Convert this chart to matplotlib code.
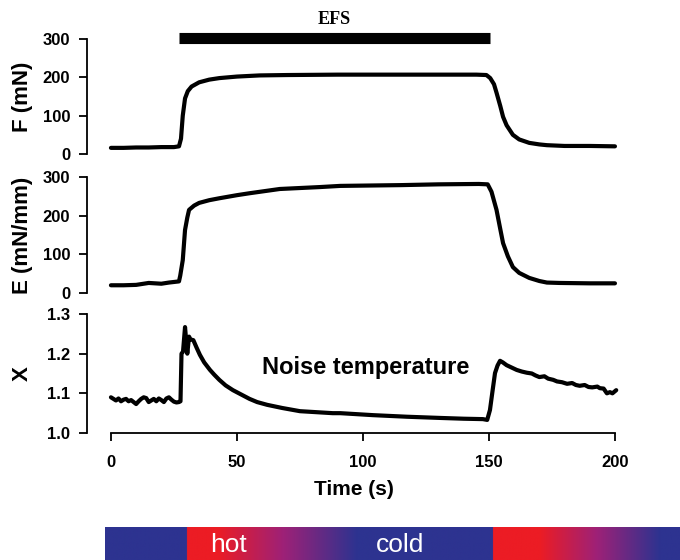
import numpy as np
import matplotlib
matplotlib.use("Agg")
import matplotlib.pyplot as plt
from matplotlib.colors import LinearSegmentedColormap

# ---------------- data ----------------
t_F = [0, 5, 10, 15, 20, 25, 27, 27.8, 28.5, 29.4, 30.5, 32, 35, 39, 43, 50, 59, 70, 90, 110, 130, 145,
       149, 150.5, 152, 153, 154.5, 155.6, 157, 159.5, 162, 166, 170, 173, 180, 190, 200]
F_vals = [16, 16, 17, 17, 18, 18, 20, 40, 100, 145, 164, 176, 187, 194, 198, 202, 205, 206, 207, 207, 207, 207,
          206, 198, 182, 160, 125, 97, 75, 50, 38, 29, 25, 23, 21, 21, 20]

t_E = [0, 5, 10, 15, 20, 23, 27, 27.5, 28.5, 29.4, 30.3, 31, 33, 35, 39, 43, 50, 55, 67, 83, 91, 115, 130, 146,
       149.5, 151, 153, 154.5, 155.6, 157.5, 159.5, 162, 166, 170, 173, 178, 190, 200]
E_vals = [20, 20, 21, 26, 24, 27, 30, 45, 85, 163, 195, 215, 226, 233, 240, 245, 253, 258, 269, 274, 277, 279, 281, 282,
          281, 262, 215, 165, 129, 95, 67, 52, 39, 31, 27, 26, 25, 25]

t_X = [0, 1, 2, 3, 4, 5, 6, 7, 8, 9, 10, 11, 12, 13, 14, 15, 16, 17, 18, 19, 20, 21, 22, 23, 24, 25, 26, 27, 27.6,
       28, 28.6, 29.4, 29.9, 30.3, 30.7, 31, 31.5, 32.7, 34, 35.3, 37, 39.3, 41, 43, 45.5, 48.4, 52, 55, 58, 62, 68,
       75, 88, 91, 104, 117.5, 130.5, 140, 147.6, 149.3,
       150.4, 151.4, 152.4, 153.4, 154.4, 155.5, 157, 159, 161, 163, 165, 167, 168.5, 170, 172, 173.5, 175.5,
       177, 179, 181, 183, 184.5, 186, 188, 189.5, 191, 193, 194, 195.5, 196.8, 198, 199, 200.5]
X_vals = [1.090, 1.086, 1.082, 1.087, 1.080, 1.084, 1.086, 1.080, 1.083, 1.078, 1.073, 1.080, 1.086, 1.090, 1.088,
          1.078, 1.082, 1.086, 1.080, 1.087, 1.083, 1.078, 1.087, 1.090, 1.084, 1.079, 1.077, 1.078, 1.080,
          1.200, 1.205, 1.267, 1.230, 1.200, 1.225, 1.243, 1.236, 1.234, 1.215, 1.197, 1.178, 1.159, 1.147, 1.134,
          1.120, 1.108, 1.096, 1.086, 1.078, 1.071, 1.063,
          1.055, 1.050, 1.050, 1.045, 1.041, 1.038, 1.036, 1.035, 1.033,
          1.058, 1.105, 1.151, 1.170, 1.182, 1.178, 1.171, 1.165, 1.159, 1.155, 1.152, 1.150, 1.145, 1.141,
          1.143, 1.137, 1.134, 1.130, 1.128, 1.124, 1.126, 1.121, 1.119, 1.121, 1.116, 1.115, 1.117,
          1.113, 1.112, 1.100, 1.103, 1.100, 1.108]

F_ticks = [0, 100, 200, 300]
E_ticks = [0, 100, 200, 300]
X_ticks = [1.0, 1.1, 1.2, 1.3]
time_ticks = [0, 50, 100, 150, 200]
efs_span = [27, 150.4]

# ---------------- styling ----------------
plt.rcParams['font.family'] = ['Liberation Sans', 'DejaVu Sans']
plt.rcParams['font.weight'] = 'bold'

fig = plt.figure(figsize=(6.8, 5.6), dpi=100)
W, H = 680.0, 560.0
left = 87 / W
width = (620 - 87) / W
xlim = (-9.5, 202)

def make_ax(ytop, ybot):
    return fig.add_axes([left, 1 - ybot / H, width, (ybot - ytop) / H])

axF = make_ax(39, 154)
axE = make_ax(177, 293)
axX = make_ax(314, 433)

lw = 3.0
for ax, t, v, ticks, lab in [(axF, t_F, F_vals, F_ticks, 'F (mN)'),
                             (axE, t_E, E_vals, E_ticks, 'E (mN/mm)'),
                             (axX, t_X, X_vals, X_ticks, 'X')]:
    ax.plot(t, v, color='black', lw=lw, solid_joinstyle='round', solid_capstyle='round', clip_on=False)
    ax.set_xlim(*xlim)
    ax.set_ylim(ticks[0], ticks[-1])
    ax.set_yticks(ticks)
    if ax is axX:
        ax.set_yticklabels([f"{x:.1f}" for x in ticks])
    ax.spines['left'].set_bounds(ticks[0], ticks[-1])
    for s in ['top', 'right']:
        ax.spines[s].set_visible(False)
    ax.spines['left'].set_linewidth(1.3)
    ax.tick_params(axis='y', length=6, width=1.3, pad=6, labelsize=12)
    ax.set_ylabel(lab, fontsize=16, fontweight='bold')
    ax.yaxis.set_label_coords(-0.102, 0.5)
    ax.patch.set_visible(False)

for ax in (axF, axE):
    ax.spines['bottom'].set_visible(False)
    ax.set_xticks([])

axX.spines['bottom'].set_bounds(0, 200)
axX.spines['bottom'].set_linewidth(1.3)
axX.set_xticks(time_ticks)
axX.tick_params(axis='x', length=6, width=1.3, pad=10, labelsize=12)
axX.set_xlabel('Time (s)', fontsize=15, fontweight='bold', labelpad=7)

# EFS bar
axF.hlines(302, efs_span[0], efs_span[1], colors='black', lw=8, clip_on=False)
axF.text(sum(efs_span) / 2, 350, 'EFS', ha='center', va='center', fontsize=13,
         fontweight='bold', family='Liberation Serif', clip_on=False)

axX.text(101, 1.164, 'Noise temperature', ha='center', va='center', fontsize=17, fontweight='bold')

# bottom colour band
blue = '#2D3390'
red = '#EC1C24'
mag = '#9E2177'
x0 = 105
span = 680 - x0
def p(px):
    return (px - x0) / span
stops = [(0.0, blue), (p(187) - 1e-4, blue), (p(187), red), (p(217), red), (p(283), mag), (p(357), blue),
         (p(493) - 1e-4, blue), (p(493), red), (p(540), red), (p(597), mag), (p(660), blue), (1.0, blue)]
cmap = LinearSegmentedColormap.from_list('band', stops, N=1024)
axB = fig.add_axes([x0 / W, 0, span / W, 33 / H])
axB.imshow(np.linspace(0, 1, 1024)[None, :], aspect='auto', cmap=cmap, extent=(0, 1, 0, 1))
axB.set_axis_off()
axB.text(p(228), 0.45, 'hot', color='white', ha='center', va='center', fontsize=19, fontweight='normal')
axB.text(p(400), 0.45, 'cold', color='white', ha='center', va='center', fontsize=19, fontweight='normal')

fig.savefig('out.png', dpi=100)
